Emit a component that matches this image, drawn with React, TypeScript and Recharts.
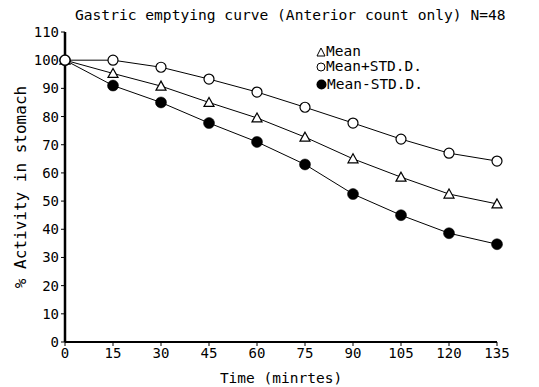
import React from 'react';
import { LineChart, Line, XAxis, YAxis } from 'recharts';

// time points (minutes)
const times = [0, 15, 30, 45, 60, 75, 90, 105, 120, 135];
const meanVals = [100, 95.3, 90.8, 85, 79.5, 72.7, 65, 58.5, 52.5, 49];
const plusSdVals = [100, 100, 97.5, 93.3, 88.7, 83.3, 77.7, 72, 67, 64.2];
const minusSdVals = [100, 91, 85, 77.7, 71, 63, 52.5, 45, 38.6, 34.7];

const yTicks = [0, 10, 20, 30, 40, 50, 60, 70, 80, 90, 100, 110];
const xTicks = [0, 15, 30, 45, 60, 75, 90, 105, 120, 135];

const data = times.map((t, i) => ({
  t,
  mean: meanVals[i],
  plus: plusSdVals[i],
  minus: minusSdVals[i],
}));

const mono = '"DejaVu Sans Mono", monospace';

const Triangle = (props: any) => {
  const { cx, cy, index } = props;
  if (cx == null || cy == null) return <g key={`tri-${index}`} />;
  const s = 5;
  return (
    <polygon
      key={`tri-${index}`}
      points={`${cx},${cy - s} ${cx - s},${cy + s * 0.8} ${cx + s},${cy + s * 0.8}`}
      fill="#fff"
      stroke="#000"
      strokeWidth={1.2}
    />
  );
};

// legend sits inside the plot, top right
const LegendBox = () => (
  <div style={{ position: 'absolute', left: 316, top: 44, fontFamily: mono, fontSize: 14.5, lineHeight: '15px', color: '#000' }}>
    <div style={{ display: 'flex', alignItems: 'center' }}>
      <svg width={10} height={10}><polygon points="5,1 1,9 9,9" fill="#fff" stroke="#000" strokeWidth={1} /></svg>
      <span>Mean</span>
    </div>
    <div style={{ display: 'flex', alignItems: 'center' }}>
      <svg width={10} height={10}><circle cx={5} cy={5} r={4} fill="#fff" stroke="#000" strokeWidth={1} /></svg>
      <span>Mean+STD.D.</span>
    </div>
    <div style={{ display: 'flex', alignItems: 'center', marginTop: 3 }}>
      <svg width={11} height={11}><circle cx={5.5} cy={5.5} r={5} fill="#000" /></svg>
      <span>Mean-STD.D.</span>
    </div>
  </div>
);

export default function App() {
  return (
    <div style={{ position: 'absolute', left: 0, top: 0, width: 539, height: 387, background: '#fff' }}>
      <div
        style={{
          position: 'absolute',
          left: 75,
          top: 6,
          fontFamily: mono,
          fontSize: 14.6,
          color: '#000',
          whiteSpace: 'nowrap',
        }}
      >
        Gastric emptying curve (Anterior count only) N=48
      </div>
      <LineChart width={539} height={387} data={data} margin={{ top: 32, right: 42, bottom: 0, left: 0 }}>
        <XAxis
          dataKey="t"
          type="number"
          domain={[0, 135]}
          ticks={xTicks}
          height={45}
          axisLine={{ stroke: '#000', strokeWidth: 2 }}
          tickLine={{ stroke: '#000' }}
          tickSize={4}
          tick={{ fill: '#000', fontFamily: mono, fontSize: 14 }}
          label={{ value: 'Time (minrtes)', position: 'insideBottom', offset: 4, fill: '#000', fontFamily: mono, fontSize: 14.5 }}
        />
        <YAxis
          type="number"
          domain={[0, 110]}
          ticks={yTicks}
          width={65}
          interval={0}
          axisLine={{ stroke: '#000', strokeWidth: 2.5 }}
          tickLine={{ stroke: '#000' }}
          tickSize={4}
          tick={{ fill: '#000', fontFamily: mono, fontSize: 14 }}
          label={{ value: '% Activity in stomach', angle: -90, position: 'insideLeft', offset: 20, fill: '#000', fontFamily: mono, fontSize: 16, style: { textAnchor: 'middle' } }}
        />
        <Line
          dataKey="minus"
          stroke="#000"
          strokeWidth={1}
          isAnimationActive={false}
          dot={{ r: 5.5, fill: '#000', stroke: '#000', strokeWidth: 0.5 }}
          activeDot={false}
        />
        <Line
          dataKey="mean"
          stroke="#000"
          strokeWidth={1}
          isAnimationActive={false}
          dot={Triangle}
          activeDot={false}
        />
        <Line
          dataKey="plus"
          stroke="#000"
          strokeWidth={1}
          isAnimationActive={false}
          dot={{ r: 5, fill: '#fff', stroke: '#000', strokeWidth: 1.2 }}
          activeDot={false}
        />
      </LineChart>
      <LegendBox />
    </div>
  );
}
